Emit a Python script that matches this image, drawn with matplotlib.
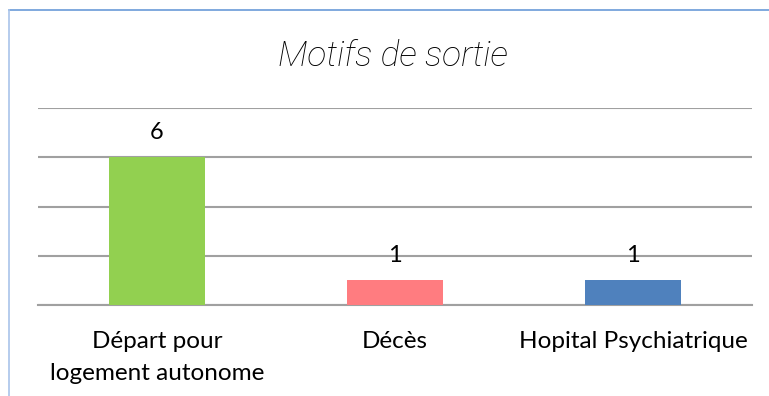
import matplotlib.pyplot as plt
from matplotlib.lines import Line2D

categories = ['Départ pour\nlogement autonome', 'Décès', 'Hopital Psychiatrique']
counts = [6, 1, 1]
colors = ['#92D050', '#FF7C80', '#4F81BD']

plt.rcParams['font.family'] = ['Lato', 'DejaVu Sans']

fig = plt.figure(figsize=(7.69, 3.96), dpi=100)
ax = fig.add_axes([38 / 769, 1 - 305 / 396, (752 - 38) / 769, (305 - 108) / 396])

x = range(len(categories))
bars = ax.bar(x, counts, width=0.4, color=colors, zorder=3)
for b, v in zip(bars, counts):
    ax.text(b.get_x() + b.get_width() / 2, v + 1, str(v), ha='center', va='center',
            fontsize=17, color='black', zorder=4)

ax.set_xlim(-0.5, 2.5)
ax.set_ylim(0, 8)
ax.set_yticks([0, 2, 4, 6, 8])
ax.set_yticklabels([])
ax.tick_params(axis='y', length=0)
ax.tick_params(axis='x', length=0, pad=19, labelsize=17.5)
ax.set_xticks(list(x))
ax.set_xticklabels(categories, linespacing=1.65)
ax.grid(axis='y', color='#a0a0a0', linewidth=1.5, zorder=0)
for s in ['top', 'left', 'right']:
    ax.spines[s].set_visible(False)
ax.spines['bottom'].set_color('#a0a0a0')
ax.spines['bottom'].set_linewidth(1.5)

fig.text(393 / 769, 1 - 56 / 396, 'Motifs de sortie', ha='center', va='center',
         fontsize=25.5, style='italic', fontweight='light', color='black',
         family=['Roboto', 'DejaVu Sans'])

# chart frame edges
fig.add_artist(Line2D([9 / 769, 1], [1 - 10 / 396, 1 - 10 / 396], color='#6A9BD8', linewidth=1.2))
fig.add_artist(Line2D([9 / 769, 9 / 769], [0, 1 - 10 / 396], color='#A9C4EA', linewidth=1.2))

fig.savefig('out.png', dpi=100)
